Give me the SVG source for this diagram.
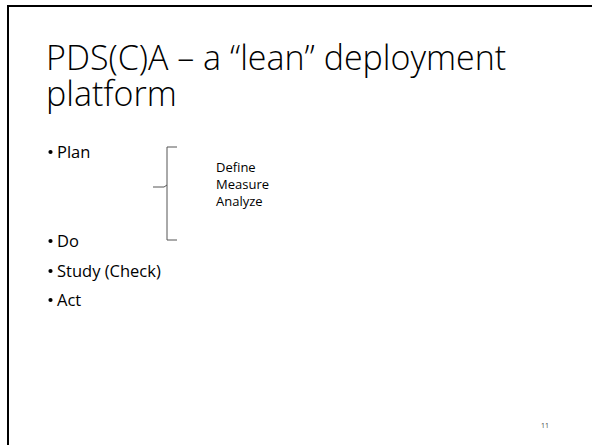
<svg xmlns="http://www.w3.org/2000/svg" width="592" height="445" viewBox="0 0 592 445">
  <style>
    text { font-family: "Open Sans", "Liberation Sans", sans-serif; fill: #000; }
    .title { font-size: 34px; font-weight: 300; }
    .bullet { font-size: 16.5px; }
    .dot { fill: #000; }
    .sub { font-size: 13px; }
    .num { font-size: 7px; fill: #444; }
    .frame { fill: none; stroke: #000; stroke-width: 2; }
    .brace { fill: none; stroke: #555; stroke-width: 1; }
  </style>
  <rect x="0" y="0" width="592" height="445" fill="#fff"/>
  <!-- slide frame: top and left edges -->
  <path class="frame" d="M8 445 V6 H592"/>

  <g id="title">
    <text class="title" x="46" y="70">PDS(C)A – a “lean” deployment</text>
    <text class="title" x="46" y="106">platform</text>
  </g>

  <g id="bullets">
    <g id="b-plan"><circle class="dot" cx="50.5" cy="152" r="2.1"/><text class="bullet" x="57" y="158">Plan</text></g>
    <g id="b-do"><circle class="dot" cx="50.5" cy="241" r="2.1"/><text class="bullet" x="57" y="247">Do</text></g>
    <g id="b-study"><circle class="dot" cx="50.5" cy="271" r="2.1"/><text class="bullet" x="57" y="277">Study (Check)</text></g>
    <g id="b-act"><circle class="dot" cx="50.5" cy="300" r="2.1"/><text class="bullet" x="57" y="306">Act</text></g>
  </g>

  <g id="brace">
    <path class="brace" d="M177 147 H167 V240 H177"/>
    <path class="brace" d="M153 187 H164 L167 185"/>
  </g>

  <g id="dma">
    <text class="sub" x="216" y="172">Define</text>
    <text class="sub" x="216" y="189">Measure</text>
    <text class="sub" x="216" y="206">Analyze</text>
  </g>

  <text class="num" x="541" y="428">11</text>
</svg>
